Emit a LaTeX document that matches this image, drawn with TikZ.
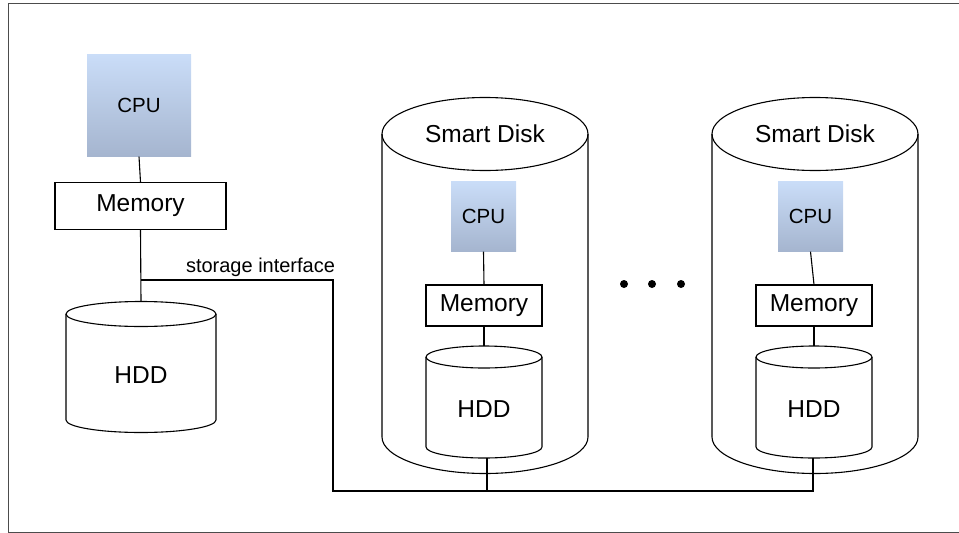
\documentclass[tikz,border=0pt]{standalone}
\usepackage{fontspec}
\setmainfont{Liberation Sans}
\definecolor{cputop}{RGB}{202,221,248}
\definecolor{cpubot}{RGB}{165,181,207}
\begin{document}
\begin{tikzpicture}[x=1pt,y=-1pt,line width=1.1pt,
        cpubox/.style={inner sep=0pt,top color=cputop,bottom color=cpubot,font=\fontsize{20.5}{24}\selectfont},
        membox/.style={draw,inner sep=0pt,font=\fontsize{24.5}{28}\selectfont},
        biglabel/.style={inner sep=0pt,font=\fontsize{24.5}{28}\selectfont}]
    \useasboundingbox (0,0) rectangle (959,533);
    \draw [black!70,line width=1pt] (8,3) rectangle (966,532);
    % host
    \node [cpubox,minimum width=104pt,minimum height=102pt] (cpuA) at (139,105) {CPU};
    \node [membox,minimum width=171pt,minimum height=47pt] (memA) at (140.5,206) {Memory};
    \node [biglabel] (hddA) at (141,375.5) {HDD};
    % smart disks
    \node [biglabel] (diskB) at (485,134) {Smart Disk};
    \node [cpubox,minimum width=65pt,minimum height=70pt] (cpuB) at (483.5,216) {CPU};
    \node [membox,minimum width=116pt,minimum height=41pt] (memB) at (484,305.5) {Memory};
    \node [biglabel] (hddB) at (484,409) {HDD};
    \node [biglabel] (diskC) at (815,134) {Smart Disk};
    \node [cpubox,minimum width=65pt,minimum height=70pt] (cpuC) at (810.5,216) {CPU};
    \node [membox,minimum width=116pt,minimum height=41pt] (memC) at (814,305.5) {Memory};
    \node [biglabel] (hddC) at (814,409) {HDD};
    % cylinders
    \foreach \cx/\rx/\ty/\by/\ry in {141/75/314/420/12.5,484/58/357/447/11,814/58/357/447/11,485/103/134/437/36.5,815/103/134/437/36.5}
    {
        \draw (\cx-\rx,\ty) -- (\cx-\rx,\by) arc[start angle=180,end angle=360,x radius=\rx pt,y radius=\ry pt] -- (\cx+\rx,\ty);
        \draw (\cx,\ty) ellipse[x radius=\rx pt,y radius=\ry pt];
    }
    \coordinate (hddAtop) at (141,301.5);
    \coordinate (hddBbot) at (487,458);
    \coordinate (hddCbot) at (813,458);
    \coordinate (tap) at (141,280);
    \coordinate (ifaceA) at (333,280);
    \coordinate (busA) at (333,491);
    % connectors
    \draw (cpuA.south) -- (memA.north);
    \draw (memA.south) -- (hddAtop);
    \draw (cpuB.south) -- (memB.north);
    \draw (memB.south) -- (memB.south |- 0,346);
    \draw (cpuC.south) -- (memC.north);
    \draw (memC.south) -- (memC.south |- 0,346);
    \draw (tap) -- (ifaceA) -- (busA) -| (hddCbot);
    \draw (hddBbot) -- (hddBbot |- busA);
    \node [inner sep=0pt,anchor=base,font=\fontsize{20}{22}\selectfont] (iface) at (260.5,272) {storage interface};
    \foreach \x in {624,652,681}
        \fill (\x,284) circle[radius=4pt];
\end{tikzpicture}
\end{document}
